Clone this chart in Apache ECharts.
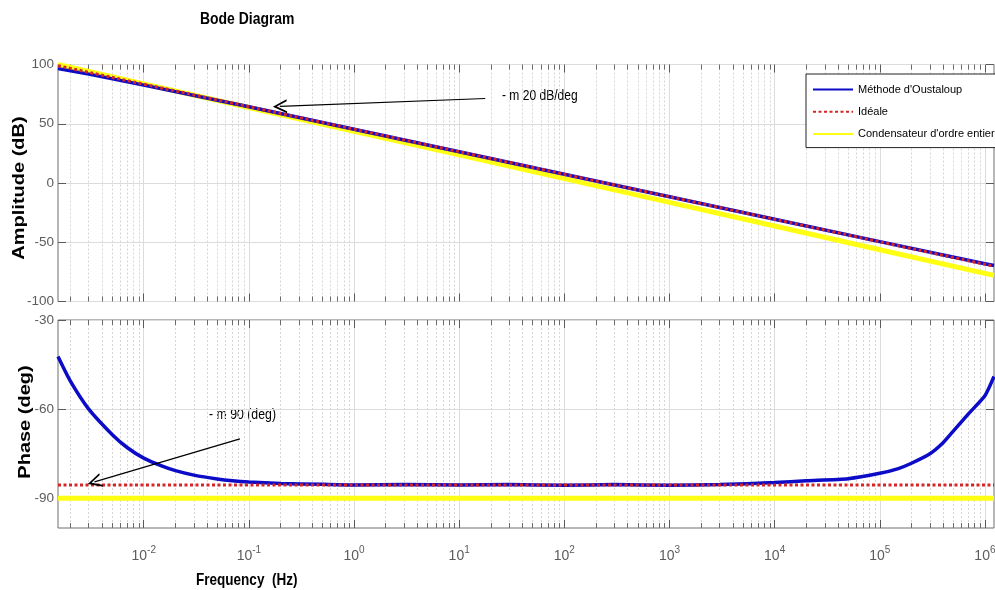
<!DOCTYPE html>
<html>
<head>
<meta charset="utf-8">
<title>Bode Diagram</title>
<script src="https://cdn.jsdelivr.net/npm/echarts@6/dist/echarts.min.js"></script>
<style>
  html, body { margin: 0; padding: 0; background: #fff; }
  #graphics { width: 995px; height: 590px; }
</style>
</head>
<body>
<div id="graphics"></div>
<script>
// frequency range of the plot (Hz)
const fMin = 0.00153;
const fMax = 1220000;

// decade ticks and minor ticks (2..9 per decade)
const decades = [0.01, 0.1, 1, 10, 100, 1000, 10000, 100000, 1000000];
const minorMult = [2, 3, 4, 5, 6, 7, 8, 9];
const minorDecades = [0.001, 0.01, 0.1, 1, 10, 100, 1000, 10000, 100000, 1000000];

// amplitude (dB)
const ampFreq = [0.00153, 0.003, 0.01, 0.1, 1, 10, 100, 1000, 10000, 100000, 1000000, 1220000];
const ampOustaloup = [96.5, 91.9, 82.6, 64.3, 45.4, 26.4, 7.4, -11.6, -30.6, -49.5, -68.2, -69.6];
const ampIdeal = [99.0, 93.4, 83.4, 64.4, 45.4, 26.4, 7.4, -11.6, -30.6, -49.6, -68.6, -70.2];
const ampInteger = [100, 94.2, 83.7, 63.7, 43.7, 23.7, 3.7, -16.3, -36.3, -56.3, -76.3, -78];

// phase (deg)
const phaseFreq = [0.00153, 0.002, 0.003, 0.005, 0.007, 0.01, 0.015, 0.02, 0.03, 0.05, 0.07, 0.1,
    0.2, 0.5, 1, 3, 10, 30, 100, 300, 1000, 3000, 10000, 20000, 50000, 100000, 150000, 200000,
    300000, 400000, 500000, 700000, 1000000, 1220000];
const phaseOustaloup = [-42.3, -50.5, -60.0, -68.5, -73.0, -76.5, -79.2, -80.7, -82.2, -83.5, -84.1, -84.5,
    -85.0, -85.3, -85.5, -85.4, -85.5, -85.4, -85.6, -85.4, -85.6, -85.4, -84.7, -84.1, -83.4, -81.6, -80.0, -78.2,
    -75.0, -71.3, -67.4, -61.5, -55.5, -49.0];
const phaseLineFreq = [0.00153, 1220000];
const phaseIdeal = [-85.5, -85.5];
const phaseInteger = [-90, -90];

// axis ticks
const ampTicks = [-100, -50, 0, 50, 100];
const phaseTicks = [-90, -60, -30];

// annotation arrows [from, to] in (Hz, value)
const arrowAmp = [[17.7, 71.3], [0.197, 64.6]];
const arrowPhase = [[0.0822, -70.0], [0.0034, -84.5]];

const FONT = '"Liberation Sans", Arial, sans-serif';

const names = ["Méthode d'Oustaloup", 'Idéale', "Condensateur d'ordre entier"];
const blue = '#0b0bc8';
const red = '#d42626';
const yellow = '#ffff14';

let minorTicks = [];
minorDecades.forEach(function (d) {
    minorMult.forEach(function (k) {
        let v = +(k * d).toPrecision(3);
        if (v > fMin && v < fMax) minorTicks.push(v);
    });
});

function pairs(xs, ys) {
    return xs.map(function (x, i) { return [x, ys[i]]; });
}

function powLabel(v) {
    let e = Math.round(Math.log10(v));
    return '{b|10}{s|' + e + '}';
}

// 4 frequency axes per grid: major bottom/top and minor bottom/top
let xAxes = [];
[0, 1].forEach(function (g) {
    let base = { type: 'log', logBase: 10, gridIndex: g, min: fMin, max: fMax,
        axisLine: { show: false, onZero: false }, splitLine: { show: false } };
    xAxes.push(Object.assign({}, base, {
        position: 'bottom',
        axisTick: { show: true, inside: true, length: 8, customValues: decades, lineStyle: { color: '#5a5a5a' } },
        axisLabel: {
            show: g === 1, customValues: decades, margin: 17, formatter: powLabel,
            rich: {
                b: { fontFamily: FONT, fontSize: 14, color: '#5c5c5c', verticalAlign: 'bottom' },
                s: { fontFamily: FONT, fontSize: 10, color: '#5c5c5c', verticalAlign: 'bottom', padding: [0, 0, 8, 0] }
            }
        },
        splitLine: { show: true, lineStyle: { color: '#dcdcdc', width: 1 } }
    }));
    xAxes.push(Object.assign({}, base, {
        position: 'top',
        axisTick: { show: true, inside: true, length: 8, customValues: decades, lineStyle: { color: '#5a5a5a' } },
        axisLabel: { show: false }
    }));
    xAxes.push(Object.assign({}, base, {
        position: 'bottom',
        axisTick: { show: true, inside: true, length: 5, customValues: minorTicks, lineStyle: { color: '#6a6a6a' } },
        axisLabel: { show: false },
        splitLine: { show: true, lineStyle: { color: '#d6d6d6', width: 1, type: [2, 2] } }
    }));
    xAxes.push(Object.assign({}, base, {
        position: 'top',
        axisTick: { show: true, inside: true, length: 5, customValues: minorTicks, lineStyle: { color: '#6a6a6a' } },
        axisLabel: { show: false }
    }));
});

const yLabel = { fontFamily: FONT, fontSize: 13.5, color: '#5c5c5c', margin: 4, padding: [3, 0, 0, 0] };

let yAxes = [
    { type: 'value', gridIndex: 0, position: 'left', min: -100, max: 100,
      axisLine: { show: false, onZero: false },
      axisTick: { show: true, inside: true, length: 8, customValues: ampTicks, lineStyle: { color: '#5a5a5a' } },
      axisLabel: Object.assign({ customValues: ampTicks }, yLabel),
      splitLine: { show: true, lineStyle: { color: '#dcdcdc' } } },
    { type: 'value', gridIndex: 0, position: 'right', min: -100, max: 100,
      axisLine: { show: false, onZero: false },
      axisTick: { show: true, inside: true, length: 8, customValues: ampTicks, lineStyle: { color: '#5a5a5a' } },
      axisLabel: { show: false }, splitLine: { show: false } },
    { type: 'value', gridIndex: 1, position: 'left', min: -100, max: -30,
      axisLine: { show: false, onZero: false },
      axisTick: { show: true, inside: true, length: 8, customValues: phaseTicks, lineStyle: { color: '#5a5a5a' } },
      axisLabel: Object.assign({ customValues: phaseTicks }, yLabel),
      splitLine: { show: true, lineStyle: { color: '#dcdcdc' } } },
    { type: 'value', gridIndex: 1, position: 'right', min: -100, max: -30,
      axisLine: { show: false, onZero: false },
      axisTick: { show: true, inside: true, length: 8, customValues: phaseTicks, lineStyle: { color: '#5a5a5a' } },
      axisLabel: { show: false }, splitLine: { show: false } }
];

// open chevron arrow head, pointing up before rotation
const chevron = 'path://M0,10 L5,0 L10,10 L8.6,10 L5,2.8 L1.4,10 Z';

function arrow(a) {
    return {
        silent: true, symbol: ['none', chevron], symbolSize: 14, symbolKeepAspect: true,
        label: { show: false },
        lineStyle: { color: '#000', width: 1.2, type: 'solid' },
        itemStyle: { color: '#000' },
        data: [[{ coord: a[0] }, { coord: a[1] }]]
    };
}

function curve(name, xi, yi, data, style, extra) {
    return Object.assign({
        name: name, type: 'line', xAxisIndex: xi, yAxisIndex: yi,
        data: data, symbol: 'none', showSymbol: false, silent: true,
        lineStyle: style, itemStyle: { color: style.color }
    }, extra || {});
}

// narrow text: the original figure is squeezed horizontally
function narrowText(x, y, text, font, sx) {
    return { type: 'text', x: x, y: y, scaleX: sx, silent: true,
        style: { text: text, font: font, fill: '#000', textVerticalAlign: 'top' } };
}

function sideName(x, y, text) {
    return { type: 'text', x: x, y: y, rotation: Math.PI / 2, scaleY: 0.8, silent: true,
        style: { text: text, font: 'bold 20px ' + FONT, fill: '#000',
            textAlign: 'center', textVerticalAlign: 'middle' } };
}

const blueStyle = { color: blue, width: 3.5 };
const redStyle = { color: red, width: 3, type: [3, 2.5], cap: 'butt' };
const yellowStyle = { color: yellow, width: 5 };

var myChart = echarts.init(document.getElementById('graphics'));

var option = {
    animation: false,
    backgroundColor: '#fff',
    legend: {
        data: names,
        orient: 'vertical', left: 806, top: 74,
        itemWidth: 40, itemHeight: 14, itemGap: 11,
        padding: [10, 4, 8, 6],
        backgroundColor: '#fff', borderColor: '#222', borderWidth: 1, borderRadius: 0,
        itemStyle: { opacity: 0 },
        textStyle: { fontFamily: FONT, fontSize: 11, color: '#000' },
        selectedMode: false, z: 10
    },
    grid: [
        { left: 58, right: 1, top: 64.5, height: 237, show: true, borderColor: '#6f6f6f', borderWidth: 1,
          containLabel: false, outerBoundsMode: 'none' },
        { left: 58, right: 1, top: 320, height: 208, show: true, borderColor: '#6f6f6f', borderWidth: 1,
          containLabel: false, outerBoundsMode: 'none' }
    ],
    xAxis: xAxes,
    yAxis: yAxes,
    graphic: [
        narrowText(200, 11, 'Bode Diagram', 'bold 17px ' + FONT, 0.82),
        narrowText(502, 88, '- m 20 dB/deg', '14.5px ' + FONT, 0.83),
        narrowText(209, 407, '- m 90 (deg)', '15px ' + FONT, 0.82),
        narrowText(196, 572, 'Frequency  (Hz)', 'bold 16.5px ' + FONT, 0.82),
        sideName(20, 188, 'Amplitude (dB)'),
        sideName(26, 422, 'Phase (deg)')
    ],
    series: [
        curve(names[2], 0, 0, pairs(ampFreq, ampInteger), yellowStyle),
        curve(names[0], 0, 0, pairs(ampFreq, ampOustaloup), blueStyle),
        curve(names[1], 0, 0, pairs(ampFreq, ampIdeal), redStyle, { markLine: arrow(arrowAmp) }),
        curve(names[2], 4, 2, pairs(phaseLineFreq, phaseInteger), yellowStyle),
        curve(names[0], 4, 2, pairs(phaseFreq, phaseOustaloup), blueStyle, { smooth: 0.2 }),
        curve(names[1], 4, 2, pairs(phaseLineFreq, phaseIdeal), redStyle, { markLine: arrow(arrowPhase) })
    ]
};

myChart.setOption(option);
</script>
</body>
</html>
